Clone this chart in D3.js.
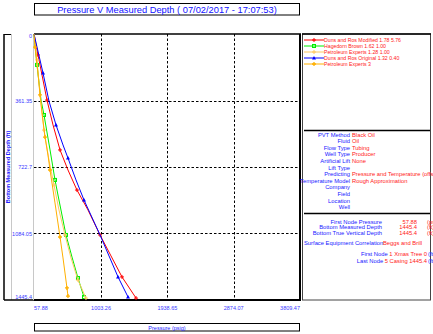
<!DOCTYPE html>
<html><head><meta charset="utf-8">
<script src="https://cdn.jsdelivr.net/npm/d3@7"></script>
<style>
body{margin:0;background:#fff;}
svg{display:block;font-family:"Liberation Sans",Arial,sans-serif;}
</style></head>
<body><svg id="c" width="433" height="334"></svg>
<script>
const titleText = "Pressure V Measured Depth ( 07/02/2017 - 17:07:53)";
const xTitle = "Pressure  (psig)";
const yTitle = "Bottom Measured Depth (ft)";
const xTickLabels = ["57.88", "1003.26", "1938.65", "2874.07", "3809.47"];
const yTickLabels = ["0", "361.35", "722.7", "1084.05", "1445.4"];
const xTicks = [57.88, 1003.26, 1938.65, 2874.07, 3809.47];
const yTicks = [0, 361.35, 722.7, 1084.05, 1445.4];

const seriesNames = ["Duns and Ros Modified 1.78 5.76", "Hagedorn Brown 1.62 1.00", "Petroleum Experts 1.28 1.00", "Duns and Ros Original 1.32 0.40", "Petroleum Experts 3"];
const seriesColors = ["#ff0000", "#00ee00", "#ffc860", "#0000ff", "#ffb000"];
const seriesMarkers = ["plus", "square", "plus", "triangle", "star"];

const dunsRosModPressure = [58, 114, 171, 241, 326, 425, 537, 664, 819, 989, 1144, 1299, 1497];
const dunsRosModDepth    = [0, 114, 223, 359, 494, 630, 739, 848, 956, 1092, 1206, 1320, 1435];
const hagedornPressure   = [58, 100, 157, 199, 284, 354, 410, 509, 594, 678, 763];
const hagedornDepth      = [0, 168, 359, 440, 630, 793, 902, 1092, 1212, 1326, 1429];
const petExpPressure     = [58, 100, 143, 199, 269, 340, 410, 495, 580, 678, 791];
const petExpDepth        = [0, 141, 331, 522, 685, 821, 956, 1092, 1217, 1337, 1435];
const dunsRosOrigPressure= [58, 185, 269, 368, 467, 537, 650, 763, 989, 1243, 1384];
const dunsRosOrigDepth   = [0, 212, 364, 494, 603, 674, 793, 902, 1092, 1320, 1429];
const petExp3Pressure    = [58, 72, 114, 143, 171, 213, 255, 284, 354, 425, 467, 523, 537];
const petExp3Depth       = [0, 71, 212, 331, 429, 560, 658, 739, 918, 1103, 1217, 1380, 1424];

const infoLabels = ["PVT Method", "Fluid", "Flow Type", "Well Type", "Artificial Lift", "Lift Type", "Predicting", "Temperature Model", "Company", "Field", "Location", "Well"];
const infoValues = ["Black Oil", "Oil", "Tubing", "Producer", "None", "", "Pressure and Temperature (offshore)", "Rough Approximation", "", "", "", ""];
const nodeLabels = ["First Node Pressure", "Bottom Measured Depth", "Bottom True Vertical Depth"];
const nodeValues = ["57.88", "1445.4", "1445.4"];
const nodeUnits = ["(psig)", "(ft)", "(ft)"];

const series = [
  {p: dunsRosModPressure, d: dunsRosModDepth},
  {p: hagedornPressure, d: hagedornDepth},
  {p: petExpPressure, d: petExpDepth},
  {p: dunsRosOrigPressure, d: dunsRosOrigDepth},
  {p: petExp3Pressure, d: petExp3Depth}
].map((s, i) => ({name: seriesNames[i], color: seriesColors[i], marker: seriesMarkers[i],
  pts: s.p.map((v, j) => ({p: v, d: s.d[j]}))}));

const svg = d3.select("#c");
const L = 34, R = 300, T = 34, B = 300;
const x = d3.scaleLinear().domain([57.88, 3809.47]).range([L, R]);
const y = d3.scaleLinear().domain([0, 1445.4]).range([T, B]);

// title box
svg.append("rect").attr("x", 34.5).attr("y", 3.5).attr("width", 265).attr("height", 11.5)
  .attr("fill", "#fff").attr("stroke", "#000").attr("stroke-width", 1);
svg.append("text").attr("x", 167).attr("y", 12.5).attr("text-anchor", "middle")
  .attr("font-size", 9.3).attr("fill", "#1010ff").text(titleText);

// y-title box
svg.append("line").attr("x1", 4).attr("x2", 4).attr("y1", 34).attr("y2", 300).attr("stroke", "#000").attr("stroke-width", 1.5);
svg.append("line").attr("x1", 4).attr("x2", 11.5).attr("y1", 34.5).attr("y2", 34.5).attr("stroke", "#000");
svg.append("line").attr("x1", 11.5).attr("x2", 11.5).attr("y1", 34).attr("y2", 300).attr("stroke", "#c8c8c8");
svg.append("line").attr("x1", 4).attr("x2", 34).attr("y1", 300).attr("y2", 300).attr("stroke", "#000").attr("stroke-width", 1.5);
svg.append("text").attr("transform", "translate(9.5,167) rotate(-90)").attr("text-anchor", "middle")
  .attr("font-size", 5.5).attr("font-weight", "bold").attr("fill", "#2020ff").text(yTitle);

// grid
const grid = svg.append("g").attr("stroke", "#000").attr("stroke-dasharray", "2.5,2").attr("stroke-width", 1);
xTicks.slice(1, 4).forEach(v => grid.append("line").attr("x1", Math.round(x(v)) + 0.5).attr("x2", Math.round(x(v)) + 0.5).attr("y1", T).attr("y2", B));
yTicks.slice(1, 4).forEach(v => grid.append("line").attr("x1", L).attr("x2", R).attr("y1", Math.round(y(v)) + 0.5).attr("y2", Math.round(y(v)) + 0.5));

// frame
svg.append("line").attr("x1", 33.5).attr("x2", 33.5).attr("y1", T).attr("y2", B).attr("stroke", "#c8c8c8");
svg.append("line").attr("x1", L).attr("x2", R + 1).attr("y1", T).attr("y2", T).attr("stroke", "#000").attr("stroke-width", 1.5);
svg.append("line").attr("x1", R).attr("x2", R).attr("y1", T).attr("y2", B).attr("stroke", "#000").attr("stroke-width", 2);
svg.append("line").attr("x1", L).attr("x2", R + 1).attr("y1", B).attr("y2", B).attr("stroke", "#000").attr("stroke-width", 2);

// tick labels
const tickColor = "#3a3aff";
xTicks.forEach((v, i) => {
  const anchor = i === 0 ? "start" : (i === xTicks.length - 1 ? "end" : "middle");
  svg.append("text").attr("x", i === xTicks.length - 1 ? R : x(v)).attr("y", 310).attr("text-anchor", anchor)
    .attr("font-size", 5.5).attr("fill", tickColor).text(xTickLabels[i]);
});
yTicks.forEach((v, i) => {
  let yy = y(v) + 2;
  if (i === 0) yy = y(v) + 4;
  if (i === yTicks.length - 1) yy = y(v) - 1;
  svg.append("text").attr("x", 32).attr("y", yy).attr("text-anchor", "end")
    .attr("font-size", 5.5).attr("fill", tickColor).text(yTickLabels[i]);
});

// x title box
svg.append("rect").attr("x", 34.5).attr("y", 323.5).attr("width", 265).attr("height", 7.5)
  .attr("fill", "#fff").attr("stroke", "#000").attr("stroke-width", 1);
svg.append("text").attr("x", 167).attr("y", 329.5).attr("text-anchor", "middle")
  .attr("font-size", 5.5).attr("fill", "#2020ff").text(xTitle);

// series
const line = d3.line().x(d => x(d.p)).y(d => y(d.d));
function drawMarker(g, type, cx, cy, color) {
  if (type === "plus") {
    g.append("path").attr("d", `M${cx - 2},${cy}H${cx + 2}M${cx},${cy - 2}V${cy + 2}`).attr("stroke", color).attr("fill", "none");
  } else if (type === "square") {
    g.append("rect").attr("x", cx - 1.5).attr("y", cy - 1.5).attr("width", 3).attr("height", 3).attr("fill", "none").attr("stroke", color);
  } else if (type === "triangle") {
    g.append("path").attr("d", `M${cx},${cy - 2}L${cx + 2},${cy + 1.5}L${cx - 2},${cy + 1.5}Z`).attr("fill", color);
  } else {
    g.append("path").attr("d", `M${cx - 2},${cy}H${cx + 2}M${cx},${cy - 2}V${cy + 2}`).attr("stroke", color).attr("stroke-width", 1.3).attr("fill", "none");
  }
}
const plot = svg.append("g");
series.forEach(s => {
  const g = plot.append("g");
  g.append("path").datum(s.pts).attr("d", line).attr("fill", "none").attr("stroke", s.color).attr("stroke-width", 1);
  s.pts.forEach((pt, j) => { if (j % 2 === 1 || j === s.pts.length - 1) drawMarker(g, s.marker, x(pt.p), y(pt.d), s.color); });
});

// right panel
const PX = 302, PW = 128;
svg.append("rect").attr("x", PX + 0.5).attr("y", 34).attr("width", PW).attr("height", 266).attr("fill", "none").attr("stroke", "#444").attr("stroke-width", 1);
svg.append("line").attr("x1", PX).attr("x2", PX + PW + 1).attr("y1", 34).attr("y2", 34).attr("stroke", "#000").attr("stroke-width", 1.5);
svg.append("line").attr("x1", PX + 2).attr("x2", PX + PW).attr("y1", 130.5).attr("y2", 130.5).attr("stroke", "#000").attr("stroke-width", 1.5);
svg.append("line").attr("x1", PX + 2).attr("x2", PX + PW).attr("y1", 213.5).attr("y2", 213.5).attr("stroke", "#000").attr("stroke-width", 1.5);

// legend
const leg = svg.append("g");
series.forEach((s, i) => {
  const ly = 40 + i * 6;
  leg.append("line").attr("x1", 304).attr("x2", 324).attr("y1", ly).attr("y2", ly).attr("stroke", s.color).attr("stroke-width", 1);
  drawMarker(leg, s.marker, 314, ly, s.color);
  leg.append("text").attr("x", 324).attr("y", ly + 2).attr("font-size", 5.2).attr("fill", "#ff2020").text(s.name);
});

// info
const labelColor = "#2020ff", valueColor = "#ff2020";
infoLabels.forEach((lab, i) => {
  const iy = 136.5 + i * 6.6;
  svg.append("text").attr("x", 350).attr("y", iy).attr("text-anchor", "end").attr("font-size", 5.8).attr("fill", labelColor).text(lab);
  if (infoValues[i]) svg.append("text").attr("x", 352).attr("y", iy).attr("font-size", 5.8).attr("fill", valueColor).text(infoValues[i]);
});
nodeLabels.forEach((lab, i) => {
  const iy = 224 + i * 5.3;
  svg.append("text").attr("x", 382).attr("y", iy).attr("text-anchor", "end").attr("font-size", 5.8).attr("fill", labelColor).text(lab);
  svg.append("text").attr("x", 417).attr("y", iy).attr("text-anchor", "end").attr("font-size", 5.8).attr("fill", valueColor).text(nodeValues[i]);
  svg.append("text").attr("x", 427).attr("y", iy).attr("font-size", 5.8).attr("fill", valueColor).text(nodeUnits[i]);
});
svg.append("text").attr("x", 304).attr("y", 245).attr("font-size", 5.8).attr("fill", labelColor).text("Surface Equipment Correlation");
svg.append("text").attr("x", 383).attr("y", 245).attr("font-size", 5.8).attr("fill", valueColor).text("Beggs and Brill");
const nodeRows = [["First Node", "1 Xmas Tree 0"], ["Last Node", "5 Casing 1445.4"]];
nodeRows.forEach((r, i) => {
  const iy = 256 + i * 6.5;
  const t = svg.append("text").attr("x", 427).attr("y", iy).attr("text-anchor", "end").attr("font-size", 5.8);
  t.append("tspan").attr("fill", labelColor).text(r[0] + " ");
  t.append("tspan").attr("fill", valueColor).text(r[1]);
  svg.append("text").attr("x", 428).attr("y", iy).attr("font-size", 5.8).attr("fill", labelColor).text("(ft)");
});
</script></body></html>
